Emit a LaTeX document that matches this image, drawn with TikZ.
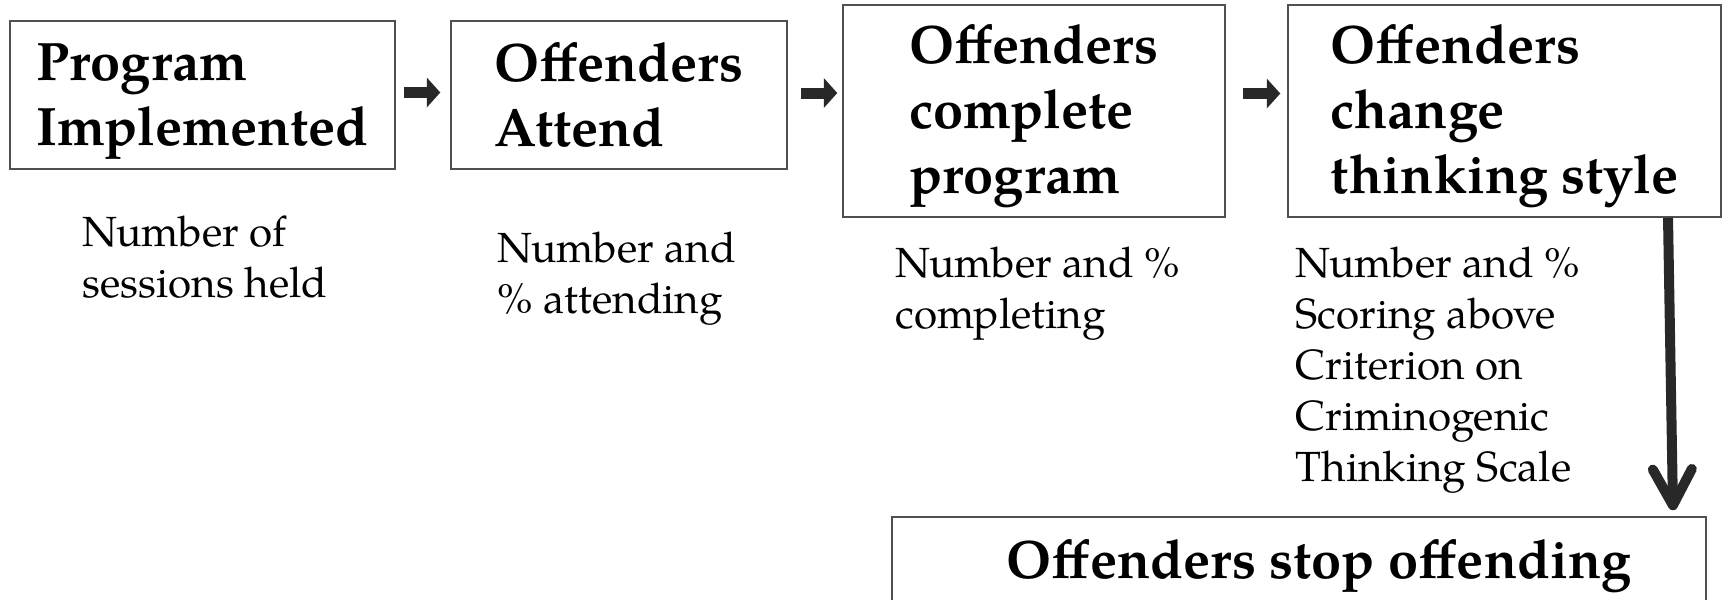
\documentclass[tikz,border=0pt]{standalone}
\usepackage{fontspec}
\setmainfont{texgyrepagella}[Extension=.otf,UprightFont=*-regular,BoldFont=*-bold]
\usetikzlibrary{arrows.meta,calc}
\definecolor{boxline}{RGB}{80,80,80}
\definecolor{arrowfill}{RGB}{40,40,40}
\newcommand{\stagetop}{\rule{0pt}{14.1pt}}
\newcommand{\stagebottom}{\rule[-3.3pt]{0pt}{3.3pt}}

\tikzset{
  stage/.style={draw=boxline, line width=0.15mm, align=left, inner sep=0pt,
    font=\fontsize{15.4}{18.4}\selectfont\bfseries},
  measure/.style={anchor=north west, align=left, inner sep=0pt,
    font=\fontsize{12}{14.5}\selectfont},
  fatarrow/.style={draw=arrowfill, line width=1.1mm,
    -{Triangle[length=1.35mm,width=3mm,line width=0pt,fill=arrowfill]}},
  downarrow/.style={draw=arrowfill, line width=1mm,
    -{Straight Barb[length=3.6mm,width=3.9mm,round]}}
}

\begin{document}
\begin{tikzpicture}[x=0.1mm, y=-0.1mm]
  \clip (0,0) rectangle (1723,599);
  % the stages
  \node[stage, minimum width=38.5mm, minimum height=14.8mm] (impl) at (202.5,95) {\stagetop Program\\Implemented\stagebottom};
  \node[stage, minimum width=33.6mm, minimum height=14.8mm] (attend) at (619,95) {\stagetop Offenders\\Attend\stagebottom};
  \node[stage, minimum width=38.2mm, minimum height=21.2mm] (complete) at (1034,111) {\stagetop Offenders\\complete\\program\stagebottom};
  \node[stage, minimum width=43.3mm, minimum height=21.2mm] (change) at (1504.5,111) {\stagetop Offenders\\change\\thinking style\stagebottom};
  \node[stage, minimum width=81.4mm, text height=17.6pt, text depth=10pt] (stop) at (1299,565.5) {\hspace*{4mm}Offenders stop offending};
  % what is measured
  \node[measure] (sessions) at (82,215) {Number of\\sessions held};
  \node[measure] (attending) at (497,231) {Number and\\\% attending};
  \node[measure] (completing) at (895,246) {Number and \%\\completing};
  \node[measure] (scoring) at (1295,246) {Number and \%\\Scoring above\\Criterion on\\Criminogenic\\Thinking Scale};
  % arrows
  \draw[fatarrow] ([xshift=0.8mm,yshift=0.25mm]impl.east) -- ([xshift=-1mm,yshift=0.25mm]attend.west);
  \draw[fatarrow] ([xshift=1.3mm,yshift=0.2mm]attend.east) -- ([xshift=-0.5mm,yshift=0.2mm]attend.east -| complete.west);
  \draw[fatarrow] ([xshift=1.7mm,yshift=1.75mm]complete.east) -- ([xshift=-0.7mm,yshift=1.75mm]change.west);
  \draw[downarrow] ([xshift=16.35mm]change.south) -- ([xshift=37.4mm,yshift=0.6mm]stop.north);
\end{tikzpicture}
\end{document}
